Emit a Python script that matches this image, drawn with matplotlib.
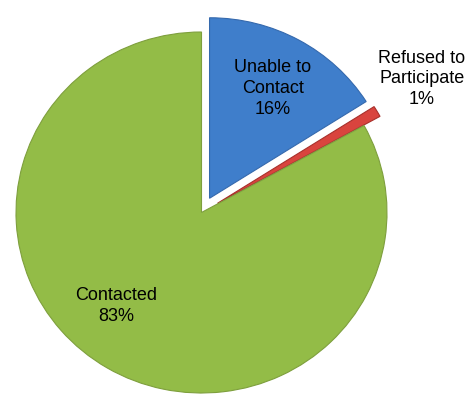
import matplotlib
matplotlib.use("Agg")
import matplotlib.pyplot as plt

categories = ["Unable to\nContact", "Refused to\nParticipate", "Contacted"]
values = [16, 1, 83]
colors = ["#3F7ECB", "#D9443E", "#93BC47"]
edge_colors = ["#3569AD", "#A8302B", "#7E9F3D"]
explode = [0.09, 0.10, 0.0]

plt.rcParams['font.family'] = ['Liberation Sans', 'DejaVu Sans']

fig = plt.figure(figsize=(4.68, 4.0), dpi=100)
ax = fig.add_axes([0, 0, 1, 1])

wedges, _ = ax.pie(values, startangle=90, counterclock=False,
                   explode=explode, colors=colors, radius=1.0,
                   wedgeprops=dict(linewidth=0.8))
for w, ec in zip(wedges, edge_colors):
    w.set_edgecolor(ec)

ax.set_aspect('auto')
ax.set_xlim(-1.0863, 1.4367)
ax.set_ylim(-1.0388, 1.1773)
ax.axis('off')

label_pos = [(0.385, 0.686), (1.189, 0.740), (-0.461, -0.518)]
for cat, v, (x, y) in zip(categories, values, label_pos):
    ax.text(x, y, f"{cat}\n{v}%", ha='center', va='center', fontsize=13,
            color='black', linespacing=1.3)

fig.savefig("out.png", dpi=100, facecolor='white')
